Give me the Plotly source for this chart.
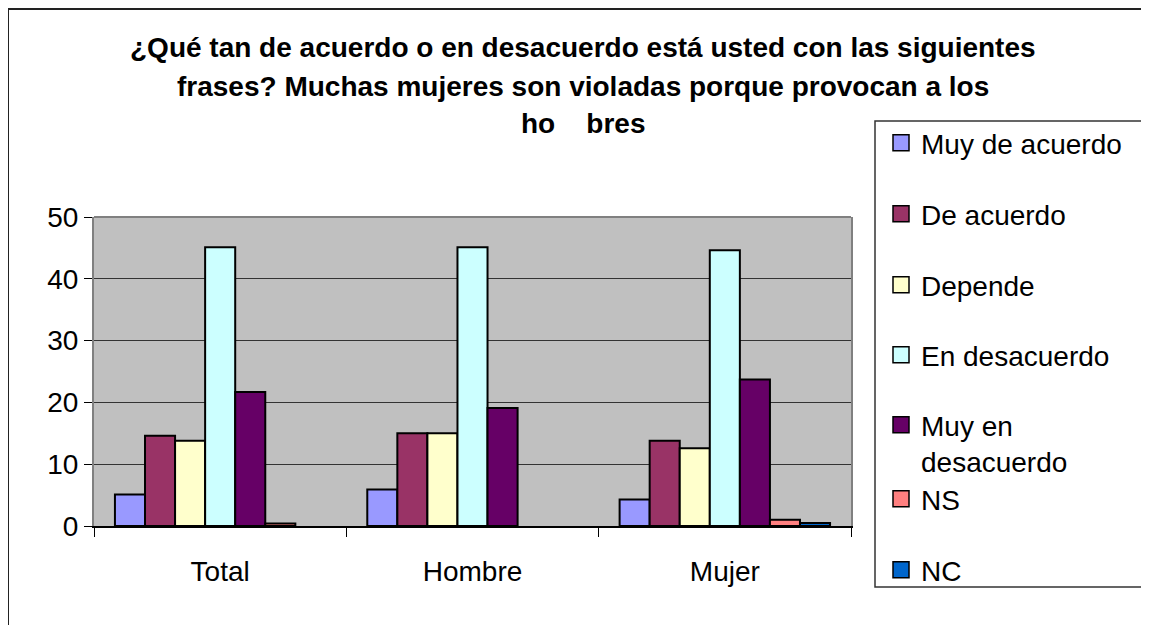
import plotly.graph_objects as go

# ---- data ----
categories = ["Total", "Hombre", "Mujer"]
series_names = ["Muy de acuerdo", "De acuerdo", "Depende", "En desacuerdo",
                "Muy en desacuerdo", "NS", "NC"]
muy_de_acuerdo = [5.1, 5.9, 4.3]
de_acuerdo = [14.6, 15.0, 13.8]
depende = [13.8, 15.0, 12.6]
en_desacuerdo = [45.1, 45.1, 44.6]
muy_en_desacuerdo = [21.7, 19.1, 23.7]
ns = [0.4, 0.0, 1.0]
nc = [0.0, 0.0, 0.5]
y_ticks = [0, 10, 20, 30, 40, 50]

values = [muy_de_acuerdo, de_acuerdo, depende, en_desacuerdo,
          muy_en_desacuerdo, ns, nc]
legend_labels = ["Muy de acuerdo", "De acuerdo", "Depende", "En desacuerdo",
                 "Muy en<br>desacuerdo", "NS", "NC"]
colors = ["#9999FF", "#993366", "#FFFFCC", "#CCFFFF", "#660066", "#FF8080", "#0066CC"]

title_lines = ["¿Qué tan de acuerdo o en desacuerdo está usted con las siguientes",
               "frases? Muchas mujeres son violadas porque provocan a los",
               "ho\u00a0\u00a0\u00a0\u00a0bres"]

# ---- geometry (screen pixels; page body has an 8px margin) ----
OFF = 8
W, H = 1149 - OFF, 625 - OFF
PL, PR, PT, PB = 94 - OFF, 851 - OFF, 217 - OFF, 526 - OFF
def px(x):
    return (x - OFF - PL) / (PR - PL)
def py(y):
    return (PB - (y - OFF)) / (PB - PT)

FONT = "Liberation Sans, Arial, sans-serif"

fig = go.Figure()
for i, (name, vals, col) in enumerate(zip(series_names, values, colors)):
    fig.add_trace(go.Bar(
        x=categories, y=vals, name=name,
        marker=dict(color=col,
                    line=dict(color="black", width=[0 if v == 0 else 2 for v in vals])),
        showlegend=False,
    ))

# legend entries (square swatches)
legend_y_px = [143, 214, 285, 355, 400, 499, 570]
for i, (lab, col) in enumerate(zip(legend_labels, colors)):
    lg = "legend" if i == 0 else f"legend{i+1}"
    fig.add_trace(go.Scatter(
        x=[None], y=[None], mode="markers", name=lab,
        marker=dict(symbol="square", size=17, color=col,
                    line=dict(color="black", width=1.5)),
        legend=lg, showlegend=True, hoverinfo="skip",
    ))

layout_legends = {}
for i in range(7):
    key = "legend" if i == 0 else f"legend{i+1}"
    multi = "<br>" in legend_labels[i]
    layout_legends[key] = dict(
        x=px(881), xanchor="left",
        y=py(legend_y_px[i]), yanchor="top" if multi else "middle",
        font=dict(family=FONT, size=28, color="black"),
        bgcolor="rgba(0,0,0,0)", borderwidth=0,
        valign="top", itemclick=False, itemdoubleclick=False,
    )

annotations = []
for t, yy in zip(title_lines, [48, 86, 124]):
    annotations.append(dict(
        text=t, x=px(583), y=py(yy), xref="paper", yref="paper",
        xanchor="center", yanchor="middle", showarrow=False,
        font=dict(family=FONT, size=28, color="black", weight="bold"),
    ))

shapes = [
    # outer chart border (left & top visible)
    dict(type="line", xref="paper", yref="paper", x0=px(8), x1=px(8),
         y0=py(8.5), y1=py(700), line=dict(color="#222222", width=2)),
    dict(type="line", xref="paper", yref="paper", x0=px(8), x1=px(1300),
         y0=py(9), y1=py(9), line=dict(color="#222222", width=2)),
    # plot area top border
    dict(type="line", xref="paper", yref="paper", x0=0, x1=1, y0=1, y1=1,
         line=dict(color="#808080", width=2), layer="above"),
    # legend box
    dict(type="rect", xref="paper", yref="paper", x0=px(875), x1=px(1147),
         y0=py(121), y1=py(587), line=dict(color="#333333", width=1.5)),
]

fig.update_layout(
    width=W, height=H,
    margin=dict(l=PL, r=W - PR, t=PT, b=H - PB, pad=0),
    paper_bgcolor="white", plot_bgcolor="#C0C0C0",
    barmode="group", bargap=0.166, bargroupgap=0,
    annotations=annotations, shapes=shapes,
    font=dict(family=FONT, color="black"),
    **layout_legends,
)
fig.update_xaxes(
    type="category", showgrid=False, showline=True, linecolor="black", linewidth=2,
    ticks="outside", tickson="boundaries", ticklen=9, tickcolor="black", tickwidth=1,
    tickfont=dict(family=FONT, size=28, color="black"), ticklabelstandoff=19,
    range=[-0.5, 2.5],
)
fig.update_yaxes(
    range=[0, 50], tickvals=y_ticks, showgrid=True, gridcolor="#333333", gridwidth=1,
    showline=True, linecolor="#808080", linewidth=2, mirror=True,
    ticks="outside", ticklen=8, tickcolor="black",
    tickfont=dict(family=FONT, size=28, color="black"), zeroline=False,
)

fig.write_html("out.html")
